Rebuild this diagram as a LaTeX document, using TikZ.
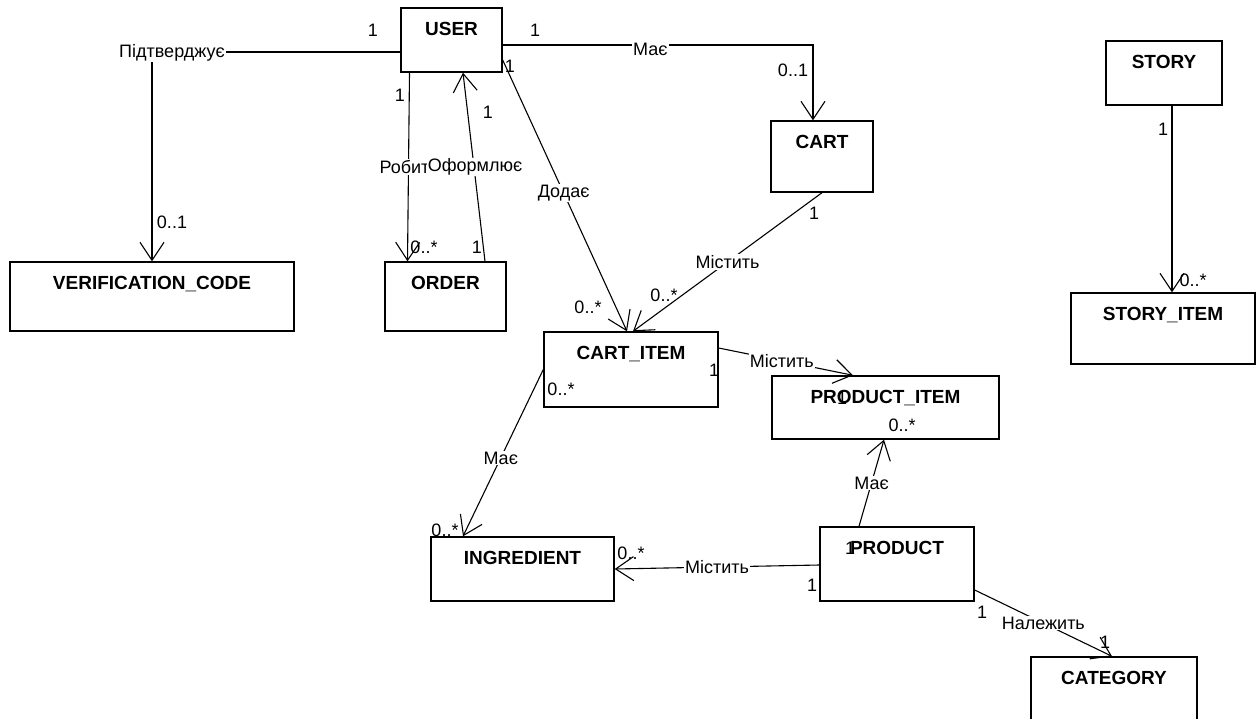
\documentclass[tikz,border=0pt]{standalone}
\usepackage{fontspec}
\setmainfont{Liberation Sans}
\usetikzlibrary{arrows.meta}

\begin{document}
\begin{tikzpicture}[x=1pt, y=-1pt,
    entity/.style={draw, line width=1.4pt, label={[title]north:#1}},
    title/.style={anchor=north, yshift=-15pt, inner sep=0pt, font=\fontsize{19}{22}\selectfont\bfseries},
    assoc/.style={line width=1.1pt, -{Straight Barb[length=18pt, width=24pt]}},
    lbl/.style={fill=white, inner sep=1pt, font=\fontsize{18}{21}\selectfont},
    mult/.style={inner sep=0pt, font=\fontsize{18}{21}\selectfont}
  ]
  \useasboundingbox (0,0) rectangle (1256,718);

  % entities
  \node[entity=USER, minimum width=101, minimum height=64] (user) at (451.5,40) {};
  \node[entity=CART, minimum width=102, minimum height=71] (cart) at (822,156.5) {};
  \node[entity=STORY, minimum width=116, minimum height=64] (story) at (1164,73) {};
  \node[entity=STORY\_ITEM, minimum width=184, minimum height=71] (storyitem) at (1163,328.5) {};
  \node[entity=VERIFICATION\_CODE, minimum width=284, minimum height=69] (code) at (152,296.5) {};
  \node[entity=ORDER, minimum width=121, minimum height=69] (order) at (445.5,296.5) {};
  \node[entity=CART\_ITEM, minimum width=174, minimum height=75] (cartitem) at (631,369.5) {};
  \node[entity=PRODUCT\_ITEM, minimum width=227, minimum height=63] (productitem) at (885.5,407.5) {};
  \node[entity=INGREDIENT, minimum width=183, minimum height=64] (ingredient) at (522.5,569) {};
  \node[entity=PRODUCT, minimum width=154, minimum height=74] (product) at (897,564) {};
  \node[entity=CATEGORY, minimum width=166, minimum height=72] (category) at (1114,693) {};

  % associations
  \draw[assoc] ([yshift=-12pt]user.west) -| node[lbl, pos=0.5, xshift=20pt, yshift=-1pt] {Підтверджує} (code.north);
  \draw[assoc] ([yshift=-5pt]user.east) -| node[lbl, pos=0.238, yshift=-4pt] {Має} ([xshift=-9pt]cart.north);
  \draw[assoc] ([xshift=-42pt]user.south) -- node[lbl, pos=0.5, xshift=-4pt] {Робит} ([xshift=-38pt]order.north);
  \draw[assoc] ([xshift=39.5pt]order.north) -- node[lbl, pos=0.5, xshift=1pt] {Оформлює} ([xshift=11.5pt]user.south);
  \draw[assoc] ([yshift=-20pt]user.east) -- node[lbl, pos=0.49] {Додає} ([xshift=-4pt]cartitem.north);
  \draw[assoc] (cart.south) -- node[lbl, pos=0.5] {Містить} ([xshift=2pt]cartitem.north);
  \draw[assoc] ([yshift=21.5pt]cartitem.east) -- node[lbl, pos=0.47] {Містить} ([xshift=-32.5pt]productitem.north);
  \draw[assoc] (cartitem.west) -- node[lbl, pos=0.53] {Має} ([xshift=-59.5pt]ingredient.north);
  \draw[assoc] ([xshift=-38pt]product.north) -- node[lbl, pos=0.5] {Має} ([xshift=-1.5pt]productitem.south);
  \draw[assoc] ([yshift=-1pt]product.west) -- node[lbl, pos=0.5] {Містить} (ingredient.east);
  \draw[assoc] ([yshift=-26pt]product.east) -- node[lbl, pos=0.5] {Належить} ([xshift=-2pt]category.north);
  \draw[assoc] ([xshift=8pt]story.south) -- ([xshift=9pt]storyitem.north);

  % multiplicities
  \foreach \x/\y/\t [count=\i] in {%
      373/30/1, 535/30/1, 793/70/0..1, 172/222/0..1,
      400/95/1, 424/247/0..*, 477/247/1, 488/112/1,
      510/66/1, 588/307/0..*, 664/295/0..*, 814/213/1,
      714/370/1, 561/389/0..*, 842/398/1, 902/425/0..*,
      445/530/0..*, 631/553/0..*, 850/548/1, 812/585/1,
      982/612/1, 1105/642/1, 1163/129/1, 1193/280/0..*%
    }{
      \node[mult] (m\i) at (\x,\y) {\t};
    }
\end{tikzpicture}
\end{document}
